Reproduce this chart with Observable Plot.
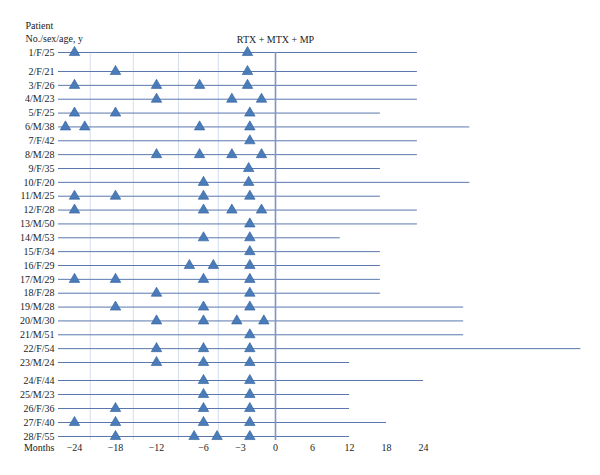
<!DOCTYPE html>
<html>
<head>
<meta charset="utf-8">
<script src="https://cdn.jsdelivr.net/npm/d3@7"></script>
<script src="https://cdn.jsdelivr.net/npm/@observablehq/plot@0.6"></script>
<style>
  html, body { margin: 0; padding: 0; background: #fff; }
  #chart svg { display: block; }
</style>
</head>
<body>
<div id="chart"></div>
<script>
// Patient labels (No./sex/age)
const patientLabels = [
  "1/F/25","2/F/21","3/F/26","4/M/23","5/F/25","6/M/38","7/F/42","8/M/28","9/F/35","10/F/20",
  "11/M/25","12/F/28","13/M/50","14/M/53","15/F/34","16/F/29","17/M/29","18/F/28","19/M/28","20/M/30",
  "21/M/51","22/F/54","23/M/24","24/F/44","25/M/23","26/F/36","27/F/40","28/F/55"
];
// End of follow-up after RTX + MTX + MP (months)
const followUpEnd = [
  23, 23, 23, 23, 17, 31.5, 23, 23, 17, 31.5,
  17, 23, 23, 10.5, 17, 17, 17, 17, 30.5, 30.5,
  30.5, 49.5, 12, 24, 12, 12, 18, 12
];
// Event times (months relative to treatment), one list per patient
const eventMonths = [
  [-24, -2.4],
  [-18, -2.4],
  [-24, -12, -6.5, -2.4],
  [-12, -3.7, -1.2],
  [-24, -18, -2.2],
  [-25.3, -22.5, -6.5, -2.2],
  [-2.2],
  [-12, -6.5, -3.7, -1.2],
  [-2.3],
  [-6, -2.3],
  [-24, -18, -6, -2.2],
  [-24, -6, -3.7, -1.2],
  [-2.2],
  [-6, -2.2],
  [-2.2],
  [-7.8, -5.2, -2.2],
  [-24, -18, -6, -2.2],
  [-12, -2.2],
  [-18, -6, -2.2],
  [-12, -6, -3.3, -1.0],
  [-2.2],
  [-12, -6, -2.2],
  [-12, -6, -2.2],
  [-6, -2.2],
  [-6, -2.2],
  [-18, -6, -2.2],
  [-24, -18, -6, -2.2],
  [-18, -7.2, -4.9, -2.2]
];
// Axis ticks (months)
const monthTicks = [-24, -18, -12, -6, -3, 0, 6, 12, 18, 24];
// Light vertical gridlines (months)
const gridMonths = [-21.7, -15.4, -9.2, -4.8];
const followStart = -26.3;
const treatmentLabel = "RTX + MTX + MP";

const patients = patientLabels.map((label, i) => ({no: i + 1, label, end: followUpEnd[i]}));
const events = eventMonths.flatMap((ms, i) => ms.map(m => ({no: i + 1, month: m})));

// Non-uniform (piecewise) month axis and row spacing, used as scale transforms
const warpX = d3.scaleLinear()
  .domain([followStart, -24, -18, -12, -6, -3, 0, 50])
  .range([58, 74, 115, 156, 203, 240, 275, 583.5]);
const warpY = d3.scaleLinear()
  .domain([1, 2, 23, 24, 28])
  .range([52, 71, 362, 380, 436]);

const fmt = d => d < 0 ? "\u2212" + (-d) : String(d);

const chart = Plot.plot({
  width: 600,
  height: 475,
  marginLeft: 58,
  marginTop: 52,
  marginBottom: 35,
  marginRight: 10,
  style: {fontFamily: "'Liberation Serif', 'DejaVu Serif', serif", fontSize: "10px", color: "#222"},
  x: {transform: warpX, domain: [58, 583.5], range: [58, 583.5], axis: null},
  y: {transform: warpY, domain: [52, 436], range: [52, 436], axis: null},
  marks: [
    Plot.ruleX(gridMonths, {x: d => d, stroke: "#d3deee", strokeWidth: 1}),
    Plot.ruleY(patients, {y: "no", x1: () => followStart, x2: "end", stroke: "#5a78ae", strokeWidth: 1}),
    Plot.ruleX([0], {x: d => d, stroke: "#7f95bf", strokeWidth: 1.6}),
    Plot.dot(events, {x: "month", y: "no", symbol: "triangle", r: 3.9, fill: "#4a7cba", stroke: "#2f5d98", strokeWidth: 0.6}),
    Plot.text(monthTicks, {x: d => d, text: fmt, frameAnchor: "bottom", lineAnchor: "top", dy: 3, fill: "#222"}),
    Plot.text(patients, {y: "no", text: "label", frameAnchor: "left", textAnchor: "end", dx: -4, fill: "#222"}),
    Plot.text(["Months"], {frameAnchor: "bottom-left", textAnchor: "end", lineAnchor: "top", dx: -4, dy: 3, fill: "#222"}),
    Plot.text(["Patient"], {frameAnchor: "top-left", textAnchor: "start", lineAnchor: "middle", dx: -33, dy: -27, fill: "#222"}),
    Plot.text(["No./sex/age, y"], {frameAnchor: "top-left", textAnchor: "start", lineAnchor: "middle", dx: -33, dy: -13.5, fill: "#222"}),
    Plot.text([treatmentLabel], {x: () => 0, frameAnchor: "top", lineAnchor: "middle", dy: -13, fill: "#222"})
  ]
});
document.getElementById("chart").append(chart);
</script>
</body>
</html>
